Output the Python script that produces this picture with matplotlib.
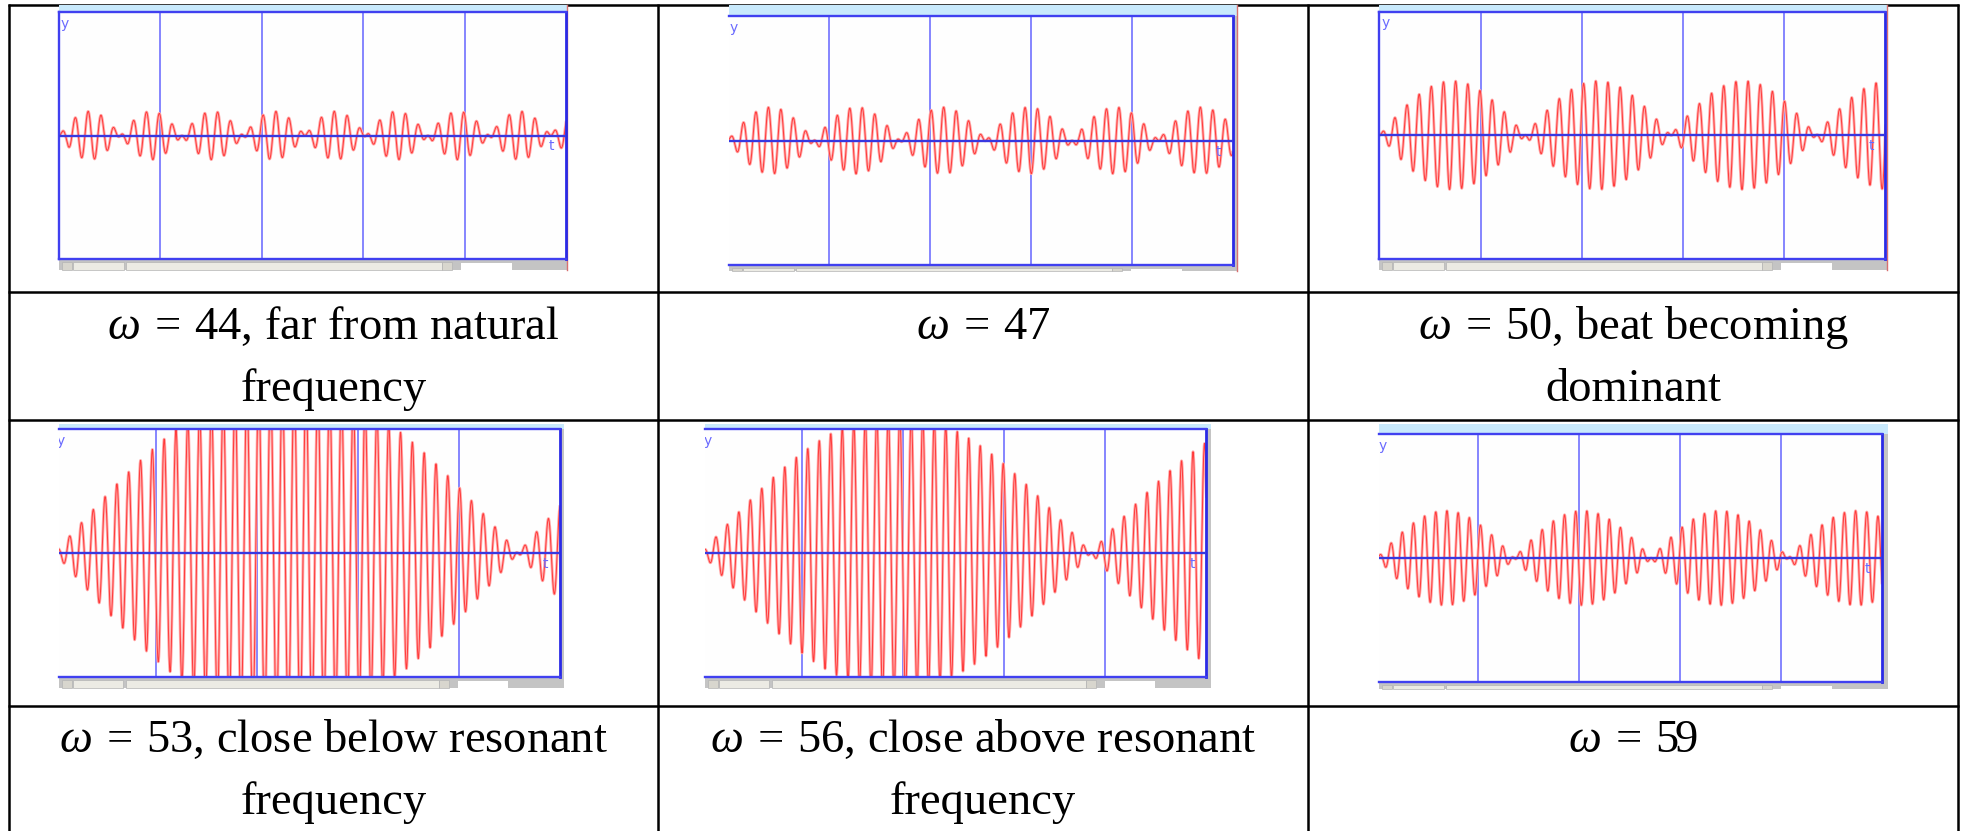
import numpy as np
import matplotlib
matplotlib.use('Agg')
import matplotlib.pyplot as plt
from matplotlib.patches import Rectangle

# ---------------- data ----------------
OMEGAS = [44, 47, 50, 53, 56, 59]          # driving frequencies
OMEGA_NATURAL = 54.37                      # natural frequency of the oscillator
FORCE = 100.0                              # forcing amplitude
T_END = 5.0                                # time span shown in each screen
GRID_T = [1, 2, 3, 4]                      # vertical grid lines (time)
Y_LIMIT = 1.0
CAPTION_LINE1 = [r'$\omega\:=\:44$, far from natural',
                 r'$\omega\:=\:47$',
                 r'$\omega\:=\:50$, beat becoming',
                 r'$\omega\:=\:53$, close below resonant',
                 r'$\omega\:=\:56$, close above resonant',
                 r'$\omega\:=\:59$']
CAPTION_LINE2 = ['frequency', '', 'dominant', 'frequency', 'frequency', '']

# ---------------- layout (pixels) ----------------
W, H = 1965, 831
# x0, x1, y0, y1 (image box); fx0, fx1, fy0, fy1 (plot frame)
SHOTS = [
    (59, 568, 5, 270, 59.0, 566.0, 12.0, 259.0),
    (729, 1238, 5, 271, 727.7, 1232.7, 16.0, 265.0),
    (1379, 1888, 5, 270, 1379.5, 1885.5, 11.5, 259.0),
    (59, 564, 424, 688, 54.8, 559.8, 429.0, 677.0),
    (705, 1211, 424, 688, 701.4, 1206.4, 429.0, 677.0),
    (1379, 1888, 424, 689, 1377.0, 1882.0, 434.0, 682.0),
]
GRAY_RIGHT = [False, True, False, True, True, True]
RED_EDGE = [True, True, True, False, False, False]
COL_CENTERS = [333.5, 983.0, 1633.0]
ROW_BASELINES = [(339, 401), (752, 814)]

plt.rcParams['font.family'] = ['Liberation Serif', 'DejaVu Serif']
plt.rcParams['mathtext.fontset'] = 'custom'
plt.rcParams['mathtext.rm'] = 'Liberation Serif'
plt.rcParams['mathtext.it'] = 'Liberation Serif:italic'

fig = plt.figure(figsize=(W / 100, H / 100), dpi=100)
fig.patch.set_facecolor('white')

bg = fig.add_axes([0, 0, 1, 1])
bg.set_xlim(0, W)
bg.set_ylim(H, 0)
bg.axis('off')

# ---- table lines ----
LW_TABLE = 1.8
XL, XR = 9, 1958
for yy in [5, 292, 420, 705.5]:
    bg.plot([XL - 1, XR + 1], [yy, yy], color='black', lw=LW_TABLE, solid_capstyle='butt')
for xx in [XL, 658, 1308, XR]:
    bg.plot([xx, xx], [4, H + 2], color='black', lw=LW_TABLE, solid_capstyle='butt')

# ---- captions ----
for i in range(6):
    r, c = divmod(i, 3)
    b1, b2 = ROW_BASELINES[r]
    bg.text(COL_CENTERS[c], b1, CAPTION_LINE1[i], ha='center', va='baseline',
            fontsize=33.5, color='black')
    if CAPTION_LINE2[i]:
        bg.text(COL_CENTERS[c], b2, CAPTION_LINE2[i], ha='center', va='baseline',
                fontsize=33.5, color='black')


def response(omega, t):
    return FORCE / (OMEGA_NATURAL ** 2 - omega ** 2) * (np.cos(omega * t) - np.cos(OMEGA_NATURAL * t))


t = np.linspace(0, T_END, 4000)

for i, omega in enumerate(OMEGAS):
    x0, x1, y0, y1, fx0, fx1, fy0, fy1 = SHOTS[i]
    w = x1 - x0
    # window decorations
    bg.add_patch(Rectangle((x0, y0), w, fy0 - y0, facecolor='#c8e9fc', edgecolor='none', zorder=2))
    bg.add_patch(Rectangle((x0, fy1), w, y1 - fy1, facecolor='#c4c4c4', edgecolor='none', zorder=2))
    bg.add_patch(Rectangle((x0 + 0.005 * w, fy1 + 2.5), 0.02 * w, y1 - fy1 - 2.5,
                           facecolor='#d8d6ce', edgecolor='#b4b4b4', lw=0.5, zorder=2.1))
    bg.add_patch(Rectangle((x0 + 0.027 * w, fy1 + 2.5), 0.10 * w, y1 - fy1 - 2.5,
                           facecolor='#ecebe4', edgecolor='#b4b4b4', lw=0.5, zorder=2.1))
    bg.add_patch(Rectangle((x0 + 0.132 * w, fy1 + 2.5), 0.62 * w, y1 - fy1 - 2.5,
                           facecolor='#ecebe4', edgecolor='#b4b4b4', lw=0.5, zorder=2.1))
    bg.add_patch(Rectangle((x0 + 0.752 * w, fy1 + 2.5), 0.02 * w, y1 - fy1 - 2.5,
                           facecolor='#d8d6ce', edgecolor='#b4b4b4', lw=0.5, zorder=2.1))
    bg.add_patch(Rectangle((x0 + 0.79 * w, fy1 + 4), 0.10 * w, y1 - fy1 - 4,
                           facecolor='white', edgecolor='none', zorder=2.1))
    right_col = '#c4c4c4' if GRAY_RIGHT[i] else 'white'
    bg.add_patch(Rectangle((fx1, fy0), x1 - fx1, fy1 - fy0, facecolor=right_col, edgecolor='none', zorder=2))
    if RED_EDGE[i]:
        bg.plot([x1 - 0.5, x1 - 0.5], [y0, y1], color='#d87070', lw=1.0, zorder=2.2)

    # plot area
    xa0 = max(fx0, x0)
    t0 = (xa0 - fx0) / (fx1 - fx0) * T_END
    ax = fig.add_axes([xa0 / W, 1 - fy1 / H, (fx1 - xa0) / W, (fy1 - fy0) / H])
    ax.set_facecolor('#fefefe')
    ax.set_xlim(t0, T_END)
    ax.set_ylim(-Y_LIMIT, Y_LIMIT)
    ax.set_xticks([])
    ax.set_yticks([])
    for name, sp in ax.spines.items():
        sp.set_color('#4040f0')
        sp.set_linewidth(1.7)
    ax.spines['right'].set_color('#2a2ae6')
    ax.spines['right'].set_linewidth(2.0)
    if fx0 < x0:
        ax.spines['left'].set_visible(False)
    for g in GRID_T:
        ax.axvline(g, color='#7c7cff', lw=1.3, zorder=1)
    y = response(omega, t)
    ax.plot(t, y, color='#ffaaaa', lw=2.0, zorder=2, solid_joinstyle='round')
    ax.plot(t, y, color='#ff3a3a', lw=0.7, zorder=2.1)
    ax.axhline(0, color='#3838e0', lw=1.7, zorder=3)
    # axis letters
    px_to_t = lambda px: (px - fx0) / (fx1 - fx0) * T_END
    py_to_y = lambda py: Y_LIMIT - 2 * Y_LIMIT * (py - fy0) / (fy1 - fy0)
    ax.text(px_to_t(fx0 + 2), py_to_y(fy0 + 5), 'y', color='#6a6aff', fontsize=10,
            family='DejaVu Sans', ha='left', va='top', clip_on=True, zorder=4)
    zero_py = (fy0 + fy1) / 2
    ax.text(px_to_t(fx1 - 17), py_to_y(zero_py + 4), 't', color='#6a6aff', fontsize=10,
            family='DejaVu Sans', ha='left', va='top', clip_on=True, zorder=4)

fig.savefig('out.png', dpi=100, facecolor='white')
